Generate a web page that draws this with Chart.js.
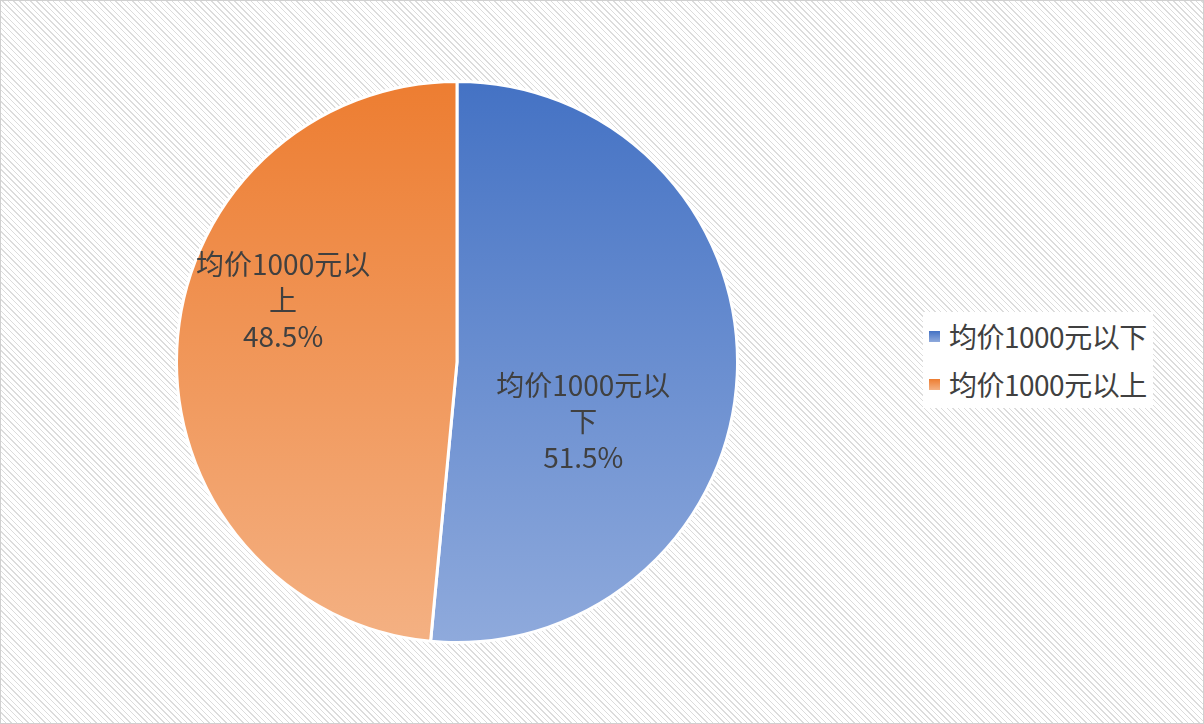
<!DOCTYPE html>
<html><head><meta charset="utf-8">
<script src="https://cdn.jsdelivr.net/npm/chart.js@4/dist/chart.umd.min.js"></script>
<style>
html,body{margin:0;padding:0;}
#wrap{position:relative;width:1204px;height:724px;box-sizing:border-box;border:1px solid #d0d0d0;
background:#fff repeating-linear-gradient(45deg,#fff 0,#fff 3px,#dcdcdc 3px,#dcdcdc 4px);}
canvas{position:absolute;left:0;top:0;}
#legend{position:absolute;left:922px;top:311px;background:#fff;padding:0 6px;font-family:"Noto Sans CJK SC";font-size:28px;color:#404040;letter-spacing:-0.5px;}
#legend div{display:flex;align-items:center;height:48px;}
#legend span.sw{display:inline-block;width:11px;height:11px;margin-right:9px;}
</style></head><body>
<div id="wrap"><canvas id="c" width="1204" height="724"></canvas>
<div id="legend"></div></div>
<script>
const categories=["均价1000元以下","均价1000元以上"];
const values=[51.5,48.5];
const labelLines=[["均价1000元以","下"],["均价1000元以","上"]];
const topColors=["#4472C4","#ED7D31"];
const botColors=["#8FAADC","#F4B183"];
const anchorFrac=[[0.45,0.21],[-0.62,-0.22]];
const ctx=document.getElementById('c').getContext('2d');
function grad(i){const g=ctx.createLinearGradient(0,79,0,643);g.addColorStop(0,topColors[i]);g.addColorStop(1,botColors[i]);return g;}
const lg=document.getElementById('legend');
categories.forEach((c,i)=>{const d=document.createElement('div');d.innerHTML='<span class="sw" style="background:linear-gradient('+topColors[i]+','+botColors[i]+')"></span>'+c;lg.appendChild(d);});
const labelPlugin={id:'lbl',afterDatasetsDraw(chart){
 const c=chart.ctx;const meta=chart.getDatasetMeta(0);
 c.save();c.font='28px "Noto Sans CJK SC"';c.fillStyle='#404040';c.textAlign='center';c.textBaseline='middle';
 meta.data.forEach((arc,i)=>{
  const x=arc.x+anchorFrac[i][0]*arc.outerRadius,y=arc.y+anchorFrac[i][1]*arc.outerRadius;
  const lines=[...labelLines[i],values[i].toFixed(1)+'%'];
  lines.forEach((t,k)=>c.fillText(t,x,y+(k-1)*36));});
 c.restore();}};
new Chart(ctx,{type:'pie',data:{labels:categories,datasets:[{data:values,backgroundColor:[grad(0),grad(1)],borderColor:'#fff',borderWidth:3}]},
options:{responsive:false,animation:false,layout:{padding:{left:174,right:466,top:79,bottom:81}},
plugins:{legend:{display:false},tooltip:{enabled:false}}},plugins:[labelPlugin]});
</script></body></html>
